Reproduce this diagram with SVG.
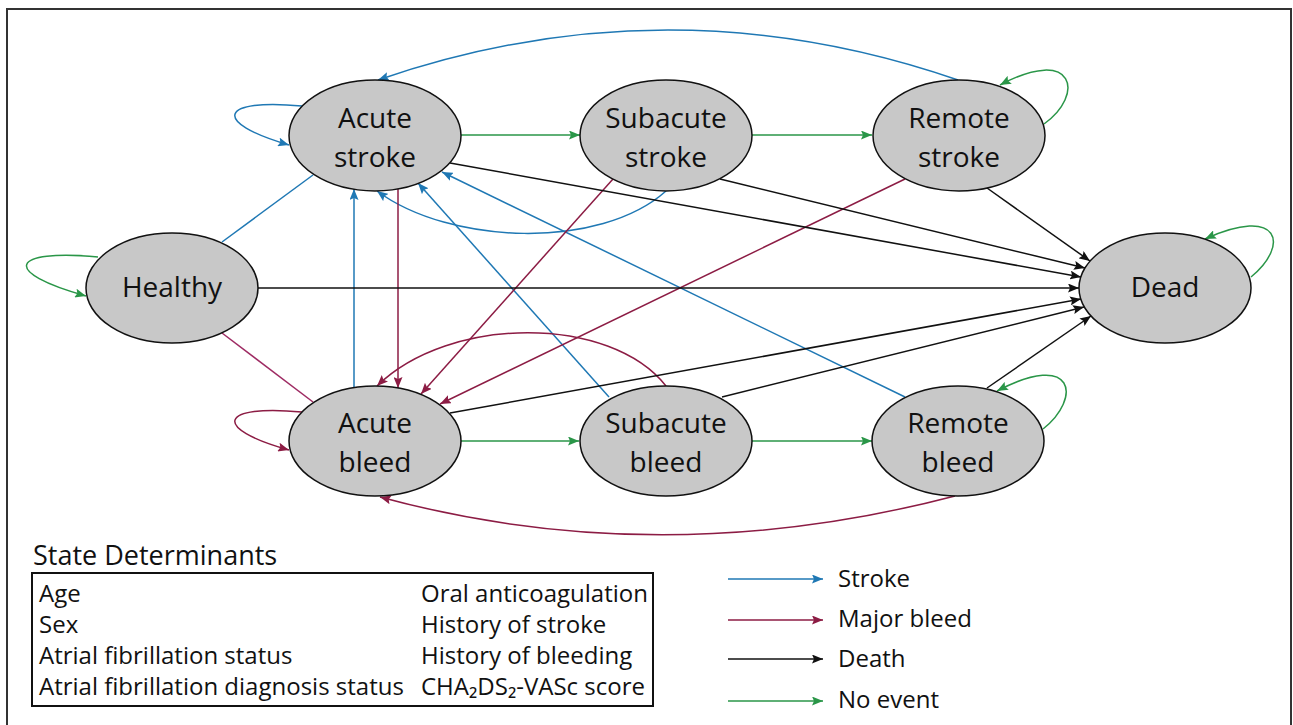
<svg xmlns="http://www.w3.org/2000/svg" width="1293" height="725" viewBox="0 0 1293 725">
<style>
  .node ellipse { fill:#c8c8c8; stroke:#111; stroke-width:1.5; }
  .node text { font-family:"Open Sans","Noto Sans",sans-serif; font-size:28px; fill:#111; text-anchor:middle; }
  .e { fill:none; stroke-width:1.5; }
  .blue { stroke:#1f78b4; }
  .red { stroke:#8c1c44; }
  .pink { stroke:#9e2b63; }
  .black { stroke:#111; }
  .green { stroke:#2a9648; }
  .t { font-family:"Open Sans","Noto Sans",sans-serif; font-size:24px; fill:#111; }
</style>
<defs>
  <marker id="ab" markerUnits="userSpaceOnUse" markerWidth="11" markerHeight="9" refX="11" refY="4.5" orient="auto"><path d="M0,0 L11,4.5 L0,9 L2,4.5 z" fill="#1f78b4"/></marker>
  <marker id="ar" markerUnits="userSpaceOnUse" markerWidth="11" markerHeight="9" refX="11" refY="4.5" orient="auto"><path d="M0,0 L11,4.5 L0,9 L2,4.5 z" fill="#8c1c44"/></marker>
  <marker id="ak" markerUnits="userSpaceOnUse" markerWidth="11" markerHeight="9" refX="11" refY="4.5" orient="auto"><path d="M0,0 L11,4.5 L0,9 L2,4.5 z" fill="#111"/></marker>
  <marker id="ag" markerUnits="userSpaceOnUse" markerWidth="11" markerHeight="9" refX="11" refY="4.5" orient="auto"><path d="M0,0 L11,4.5 L0,9 L2,4.5 z" fill="#2a9648"/></marker>
</defs>
<rect width="1293" height="725" fill="#fff"/>
<path d="M7,726 V9 H1291 V726" fill="none" stroke="#333" stroke-width="2"/>

<g id="connectors">
  <!-- stroke (blue) -->
  <path class="e blue" d="M958,80 Q668,-20 378,80" marker-end="url(#ab)"/>
  <path class="e blue" d="M222,242 L313,175"/>
  <path class="e blue" d="M354,388 L354,189" marker-end="url(#ab)"/>
  <path class="e blue" d="M666,191 C600,250 450,245 377,191" marker-end="url(#ab)"/>
  <path class="e blue" d="M609,397 L418,183" marker-end="url(#ab)"/>
  <path class="e blue" d="M905,397 L442,172" marker-end="url(#ab)"/>
  <path class="e blue" d="M302,106 C220,98 210,122 289,145" marker-end="url(#ab)"/>
  <!-- major bleed (maroon) -->
  <path class="e pink" d="M222,333 L313,402"/>
  <path class="e red" d="M398,189 L398,388" marker-end="url(#ar)"/>
  <path class="e red" d="M613,179 L421,394" marker-end="url(#ar)"/>
  <path class="e red" d="M905,179 L440,404" marker-end="url(#ar)"/>
  <path class="e red" d="M666,386 C610,315 450,315 377,386" marker-end="url(#ar)"/>
  <path class="e red" d="M955,496 Q660,573 380,497" marker-end="url(#ar)"/>
  <path class="e red" d="M302,412 C220,404 210,428 289,450" marker-end="url(#ar)"/>
  <!-- death (black) -->
  <path class="e black" d="M258,288 L1079,288" marker-end="url(#ak)"/>
  <path class="e black" d="M450,163 L1081,277" marker-end="url(#ak)"/>
  <path class="e black" d="M720,179 L1085,268" marker-end="url(#ak)"/>
  <path class="e black" d="M987,188 L1090,261" marker-end="url(#ak)"/>
  <path class="e black" d="M450,413 L1081,299" marker-end="url(#ak)"/>
  <path class="e black" d="M722,397 L1084,307" marker-end="url(#ak)"/>
  <path class="e black" d="M987,388 L1091,316" marker-end="url(#ak)"/>
  <!-- no event (green) -->
  <path class="e green" d="M461,135 L580,135" marker-end="url(#ag)"/>
  <path class="e green" d="M752,135 L872,135" marker-end="url(#ag)"/>
  <path class="e green" d="M461,441 L579,441" marker-end="url(#ag)"/>
  <path class="e green" d="M752,441 L872,441" marker-end="url(#ag)"/>
  <path class="e green" d="M98,257 C10,249 0,272 86,296" marker-end="url(#ag)"/>
  <path class="e green" d="M1044,124 C1085,95 1075,45 1000,85" marker-end="url(#ag)"/>
  <path class="e green" d="M1251,277 C1290,245 1280,205 1205,239" marker-end="url(#ag)"/>
  <path class="e green" d="M1043,429 C1082,398 1075,350 997,391" marker-end="url(#ag)"/>
</g>

<g id="node-healthy" class="node"><ellipse cx="172" cy="288" rx="86" ry="55"/><text x="172" y="297">Healthy</text></g>
<g id="node-acute-stroke" class="node"><ellipse cx="375" cy="135.5" rx="86" ry="55.5"/><text x="375" y="128">Acute</text><text x="375" y="167">stroke</text></g>
<g id="node-subacute-stroke" class="node"><ellipse cx="666" cy="135.5" rx="86" ry="55.5"/><text x="666" y="128">Subacute</text><text x="666" y="167">stroke</text></g>
<g id="node-remote-stroke" class="node"><ellipse cx="959" cy="135.5" rx="86" ry="55.5"/><text x="959" y="128">Remote</text><text x="959" y="167">stroke</text></g>
<g id="node-dead" class="node"><ellipse cx="1165" cy="288" rx="86" ry="55"/><text x="1165" y="297">Dead</text></g>
<g id="node-acute-bleed" class="node"><ellipse cx="375" cy="441" rx="86" ry="55"/><text x="375" y="433">Acute</text><text x="375" y="472">bleed</text></g>
<g id="node-subacute-bleed" class="node"><ellipse cx="666" cy="441" rx="86" ry="55"/><text x="666" y="433">Subacute</text><text x="666" y="472">bleed</text></g>
<g id="node-remote-bleed" class="node"><ellipse cx="958" cy="441" rx="86" ry="55"/><text x="958" y="433">Remote</text><text x="958" y="472">bleed</text></g>

<g id="state-determinants">
  <text class="t" x="33" y="565" style="font-size:27px">State Determinants</text>
  <rect x="32" y="573" width="621" height="133" fill="none" stroke="#111" stroke-width="2"/>
  <text class="t" x="39" y="602">Age</text>
  <text class="t" x="39" y="633">Sex</text>
  <text class="t" x="39" y="664">Atrial fibrillation status</text>
  <text class="t" x="39" y="695">Atrial fibrillation diagnosis status</text>
  <text class="t" x="421" y="602">Oral anticoagulation</text>
  <text class="t" x="421" y="633">History of stroke</text>
  <text class="t" x="421" y="664">History of bleeding</text>
  <text class="t" x="421" y="695">CHA₂DS₂-VASc score</text>
</g>

<g id="legend">
  <path class="e blue" d="M728,579 L823,579" marker-end="url(#ab)"/>
  <path class="e red" d="M728,620 L823,620" marker-end="url(#ar)"/>
  <path class="e black" d="M728,659 L823,659" marker-end="url(#ak)"/>
  <path class="e green" d="M728,701 L823,701" marker-end="url(#ag)"/>
  <text class="t" x="838" y="587">Stroke</text>
  <text class="t" x="838" y="627">Major bleed</text>
  <text class="t" x="838" y="667">Death</text>
  <text class="t" x="838" y="708">No event</text>
</g>
</svg>
